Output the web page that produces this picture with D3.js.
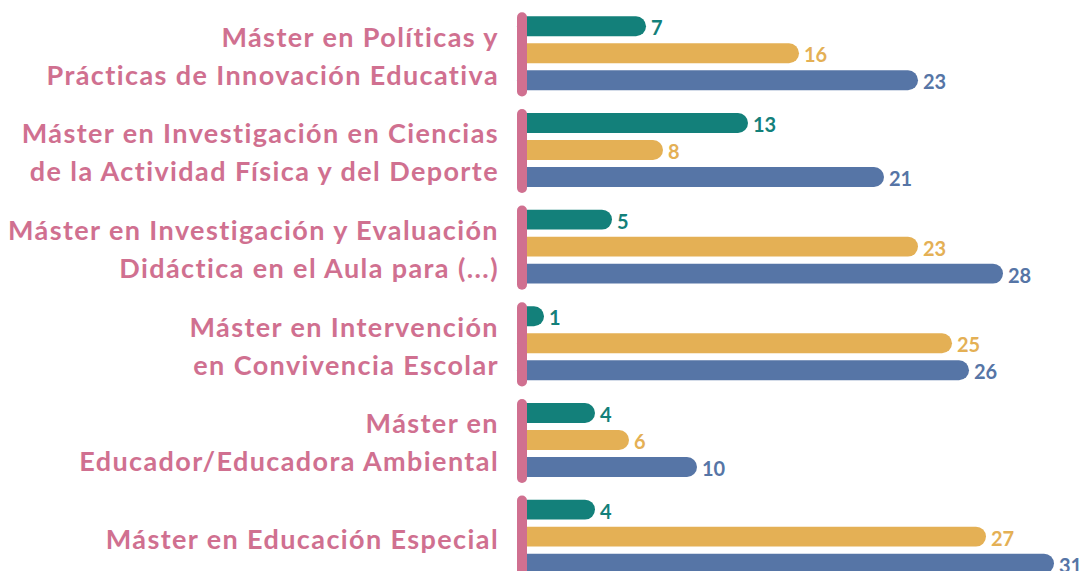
<!DOCTYPE html>
<html>
<head>
<meta charset="utf-8">
<script src="https://cdn.jsdelivr.net/npm/d3@7"></script>
<style>
    body { margin: 0; background: #fff; }
    svg { display: block; }
</style>
</head>
<body>
<svg id="chart" width="1085" height="571"></svg>
<script>

// categories, each label split into its lines
const categories = [
    ['Máster en Políticas y', 'Prácticas de Innovación Educativa'],
    ['Máster en Investigación en Ciencias', 'de la Actividad Física y del Deporte'],
    ['Máster en Investigación y Evaluación', 'Didáctica en el Aula para (...)'],
    ['Máster en Intervención', 'en Convivencia Escolar'],
    ['Máster en', 'Educador/Educadora Ambiental'],
    ['Máster en Educación Especial']
];

const seriesNames = ['s1', 's2', 's3'];
const seriesColors = ['#13807a', '#e4b055', '#5675a6'];

const valuesS1 = [7, 13, 5, 1, 4, 4];
const valuesS2 = [16, 8, 23, 25, 6, 27];
const valuesS3 = [23, 21, 28, 26, 10, 31];

const pink = '#d07090';

const svg = d3.select('#chart');
const keys = categories.map(c => c.join(' '));

const y0 = d3.scaleBand()
    .domain(keys)
    .range([6, 586])
    .paddingInner(0.13)
    .paddingOuter(0.065);

const y1 = d3.scaleBand()
    .domain(seriesNames)
    .range([0.5, 81.5])
    .paddingInner(0.26)
    .paddingOuter(0.13);

const x = d3.scaleLinear()
    .domain([0, 31])
    .range([527, 1054]);

const rows = keys.map((k, i) => ({
    key: k,
    lines: categories[i],
    vals: [valuesS1[i], valuesS2[i], valuesS3[i]]
}));

const groups = svg.selectAll('g.group')
    .data(rows)
    .join('g')
    .attr('class', 'group')
    .attr('transform', d => 'translate(0,' + y0(d.key) + ')');

// bars, left end hidden under the pink marker
groups.each(function (d) {
    const g = d3.select(this);
    d.vals.forEach((v, j) => {
        const yy = y1(seriesNames[j]);
        const h = y1.bandwidth();
        g.append('rect')
            .attr('x', x(0) - 10)
            .attr('y', yy)
            .attr('width', x(v) - x(0) + 10)
            .attr('height', h)
            .attr('rx', h / 2)
            .attr('fill', seriesColors[j]);
        g.append('text')
            .attr('x', x(v) + 5)
            .attr('y', yy + h - 1)
            .attr('fill', seriesColors[j])
            .attr('font-family', 'Lato, sans-serif')
            .attr('font-weight', 700)
            .attr('font-size', 20)
            .text(v);
    });
});

// pink marker per group
groups.append('rect')
    .attr('x', 517)
    .attr('y', 0)
    .attr('width', 10)
    .attr('height', y0.bandwidth())
    .attr('rx', 5)
    .attr('fill', pink);

// category labels
groups.each(function (d) {
    const g = d3.select(this);
    const mid = y0.bandwidth() / 2;
    const n = d.lines.length;
    d.lines.forEach((line, k) => {
        g.append('text')
            .attr('x', 499)
            .attr('y', mid + 11.5 + (k - (n - 1) / 2) * 38)
            .attr('text-anchor', 'end')
            .attr('fill', pink)
            .attr('font-family', 'Lato, sans-serif')
            .attr('font-weight', 700)
            .attr('font-size', 27)
            .attr('letter-spacing', 1.4)
            .text(line);
    });
});

</script>
</body>
</html>
